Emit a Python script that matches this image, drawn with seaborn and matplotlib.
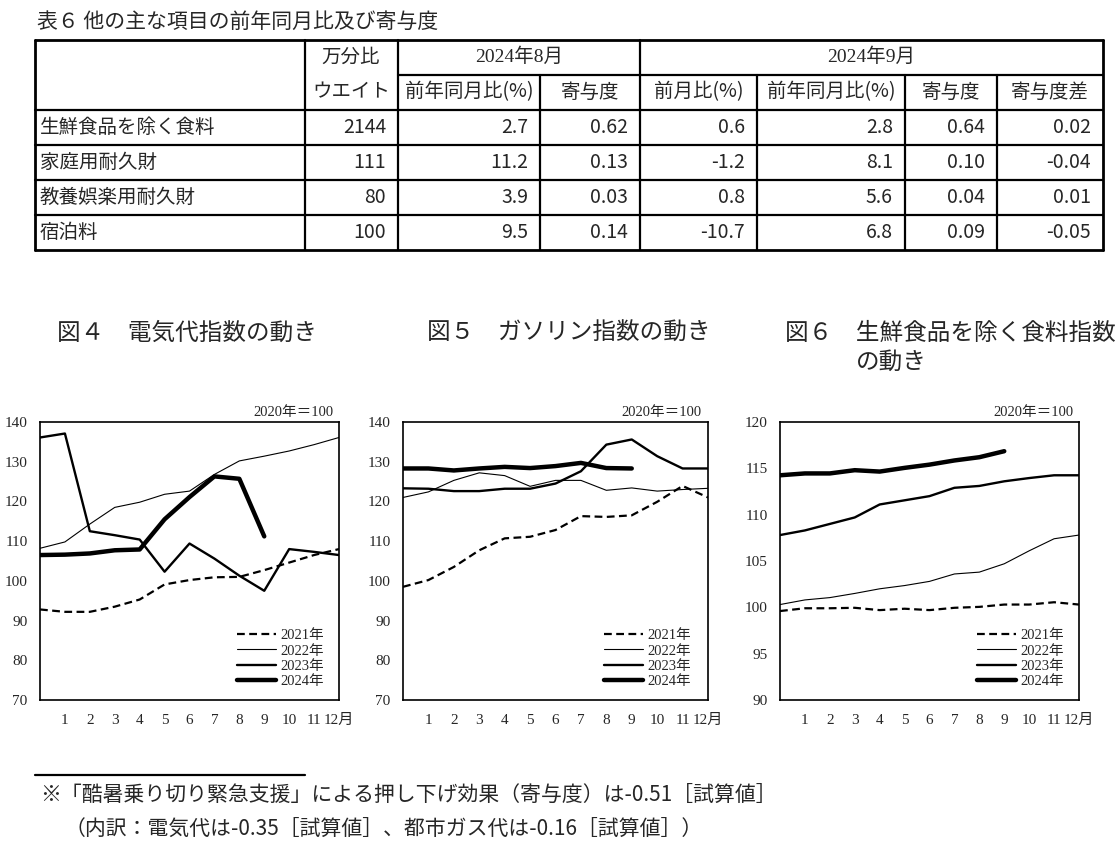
import numpy as np
import pandas as pd
import seaborn as sns
import matplotlib.pyplot as plt

sns.set_style('white')
plt.rcParams['font.family'] = ['Liberation Serif', 'Noto Sans CJK JP']
JP = ['Noto Sans CJK JP', 'DejaVu Sans']
MIX = ['Liberation Serif', 'Noto Sans CJK JP']

# 表６ データ
table_title = '表６ 他の主な項目の前年同月比及び寄与度'
items = ['生鮮食品を除く食料', '家庭用耐久財', '教養娯楽用耐久財', '宿泊料']
weights = [2144, 111, 80, 100]
aug_yoy = [2.7, 11.2, 3.9, 9.5]
aug_contrib = [0.62, 0.13, 0.03, 0.14]
sep_mom = [0.6, -1.2, 0.8, -10.7]
sep_yoy = [2.8, 8.1, 5.6, 6.8]
sep_contrib = [0.64, 0.10, 0.04, 0.09]
contrib_diff = [0.02, -0.04, 0.01, -0.05]

# グラフのデータ（前年12月 = 0）
months = list(range(13))
month_labels = [str(m) for m in range(1, 12)] + ['12月']
years = ['2021年', '2022年', '2023年', '2024年']

elec_2021 = [92.8, 92.2, 92.2, 93.5, 95.3, 99.1, 100.2, 100.9, 101.0, 102.7, 104.6, 106.5, 108.0]
elec_2022 = [108.2, 109.8, 114.3, 118.5, 119.8, 121.8, 122.6, 126.8, 130.2, 131.4, 132.7, 134.3, 136.1]
elec_2023 = [136.1, 137.1, 112.5, 111.5, 110.4, 102.3, 109.4, 105.6, 101.3, 97.5, 108.0, 107.3, 106.5]
elec_2024 = [106.5, 106.6, 106.9, 107.7, 107.9, 115.5, 121.1, 126.3, 125.7, 111.2]

gas_2021 = [98.5, 100.2, 103.5, 107.7, 110.7, 111.1, 112.8, 116.3, 116.1, 116.5, 119.9, 123.9, 121.0]
gas_2022 = [121.0, 122.4, 125.3, 127.2, 126.5, 123.8, 125.3, 125.3, 122.8, 123.4, 122.6, 123.0, 123.3]
gas_2023 = [123.3, 123.2, 122.6, 122.6, 123.2, 123.2, 124.5, 127.6, 134.3, 135.6, 131.4, 128.3, 128.3]
gas_2024 = [128.3, 128.3, 127.8, 128.3, 128.7, 128.4, 128.9, 129.7, 128.4, 128.3]

food_2021 = [99.6, 99.9, 99.9, 99.95, 99.7, 99.85, 99.7, 99.95, 100.05, 100.3, 100.3, 100.55, 100.3]
food_2022 = [100.3, 100.8, 101.05, 101.5, 102.0, 102.35, 102.8, 103.6, 103.8, 104.7, 106.1, 107.4, 107.8]
food_2023 = [107.8, 108.3, 109.0, 109.7, 111.1, 111.55, 112.0, 112.9, 113.1, 113.6, 113.95, 114.25, 114.25]
food_2024 = [114.25, 114.45, 114.45, 114.8, 114.65, 115.05, 115.4, 115.85, 116.2, 116.85]

W, H = 1116, 855
fig = plt.figure(figsize=(W / 100, H / 100), dpi=100)

# 全体を画素座標で扱う下敷き
base = fig.add_axes([0, 0, 1, 1])
base.set_xlim(0, W)
base.set_ylim(H, 0)
base.axis('off')

# ---- 表 ----
fs_tab = 14
base.text(37, 22, table_title, family=JP, fontsize=15, va='center', ha='left')
col_x = [35, 305, 398, 540, 640, 757, 905, 997, 1103]
row_y = [40, 75, 110, 145, 180, 215, 250]
lw = 1.6
for i, y in enumerate(row_y):
    x0 = col_x[2] if i == 1 else col_x[0]
    base.plot([x0, col_x[-1]], [y, y], color='black', lw=2 if i in (0, 6) else lw)
for j, x in enumerate(col_x):
    y0 = row_y[1] if x in (540, 757, 905, 997) else row_y[0]
    base.plot([x, x], [y0, row_y[-1]], color='black', lw=2 if j in (0, 8) else lw)

base.text(351, 57, '万分比', family=JP, fontsize=fs_tab, ha='center', va='center')
base.text(351, 92, 'ウエイト', family=JP, fontsize=fs_tab, ha='center', va='center')
base.text(519, 57, '2024年8月', family=MIX, fontsize=fs_tab, ha='center', va='center')
base.text(871, 57, '2024年9月', family=MIX, fontsize=fs_tab, ha='center', va='center')
sub_heads = ['前年同月比(%)', '寄与度', '前月比(%)', '前年同月比(%)', '寄与度', '寄与度差']
for k, txt in enumerate(sub_heads):
    xc = (col_x[k + 2] + col_x[k + 3]) / 2
    base.text(xc, 92, txt, family=JP, fontsize=fs_tab, ha='center', va='center')

cols = [
    [f'{v}' for v in weights],
    [f'{v:.1f}' for v in aug_yoy],
    [f'{v:.2f}' for v in aug_contrib],
    [f'{v:.1f}' for v in sep_mom],
    [f'{v:.1f}' for v in sep_yoy],
    [f'{v:.2f}' for v in sep_contrib],
    [f'{v:.2f}' for v in contrib_diff],
]
for r, name in enumerate(items):
    yc = (row_y[r + 2] + row_y[r + 3]) / 2
    base.text(40, yc, name, family=JP, fontsize=fs_tab, ha='left', va='center')
    for c, vals in enumerate(cols):
        base.text(col_x[c + 2] - 12, yc, vals[r], family=JP, fontsize=fs_tab,
                  ha='right', va='center')

# ---- グラフ ----
styles = {
    '2021年': dict(linestyle=(0, (3.5, 2)), lw=1.6),
    '2022年': dict(linestyle='-', lw=0.8),
    '2023年': dict(linestyle='-', lw=1.7),
    '2024年': dict(linestyle='-', lw=3.2),
}

charts = [
    (40, 299, [elec_2021, elec_2022, elec_2023, elec_2024], (70, 140), np.arange(70, 141, 10)),
    (403, 305, [gas_2021, gas_2022, gas_2023, gas_2024], (70, 140), np.arange(70, 141, 10)),
    (780, 299, [food_2021, food_2022, food_2023, food_2024], (90, 120), np.arange(90, 121, 5)),
]

for left, width, series, ylim, yticks in charts:
    ax = fig.add_axes([left / W, (H - 700) / H, width / W, 278 / H])
    for yr, vals in zip(years, series):
        sns.lineplot(x=months[:len(vals)], y=vals, ax=ax, color='black',
                     label=yr, **styles[yr])
    ax.set_xlim(0, 12)
    ax.set_ylim(*ylim)
    ax.set_yticks(yticks)
    ax.set_xticks(range(1, 13))
    ax.set_xticklabels(month_labels, family=MIX)
    ax.tick_params(axis='x', direction='in', length=4, width=1, pad=10, labelsize=11)
    ax.tick_params(axis='y', length=0, pad=9, labelsize=11)
    for sp in ax.spines.values():
        sp.set_color('black')
        sp.set_linewidth(1.2)
    ax.set_xlabel('')
    ax.set_ylabel('')
    ax.text(0.98, 1.01, '2020年＝100', transform=ax.transAxes, family=MIX,
            fontsize=10.5, ha='right', va='bottom')
    leg = ax.legend(loc='lower left', bbox_to_anchor=(0.62, 0.0), frameon=False,
                    fontsize=10.5, handlelength=2.7, labelspacing=0.15,
                    handletextpad=0.3, borderpad=0.3)
    for t in leg.get_texts():
        t.set_family(MIX)

fs_title = 17
base.text(57, 333, '図４　電気代指数の動き', family=JP, fontsize=fs_title, va='center', ha='left')
base.text(427, 333, '図５　ガソリン指数の動き', family=JP, fontsize=fs_title, va='center', ha='left')
base.text(785, 333, '図６　生鮮食品を除く食料指数', family=JP, fontsize=fs_title, va='center', ha='left')
base.text(856, 362, 'の動き', family=JP, fontsize=fs_title, va='center', ha='left')

# ---- 注記 ----
base.plot([35, 305], [775, 775], color='black', lw=1.6)
base.text(40, 795, '※「酷暑乗り切り緊急支援」による押し下げ効果（寄与度）は-0.51［試算値］',
          family=JP, fontsize=15, ha='left', va='center')
base.text(65, 829, '（内訳：電気代は-0.35［試算値］、都市ガス代は-0.16［試算値］）',
          family=JP, fontsize=15, ha='left', va='center')

fig.savefig('out.png', dpi=100)
